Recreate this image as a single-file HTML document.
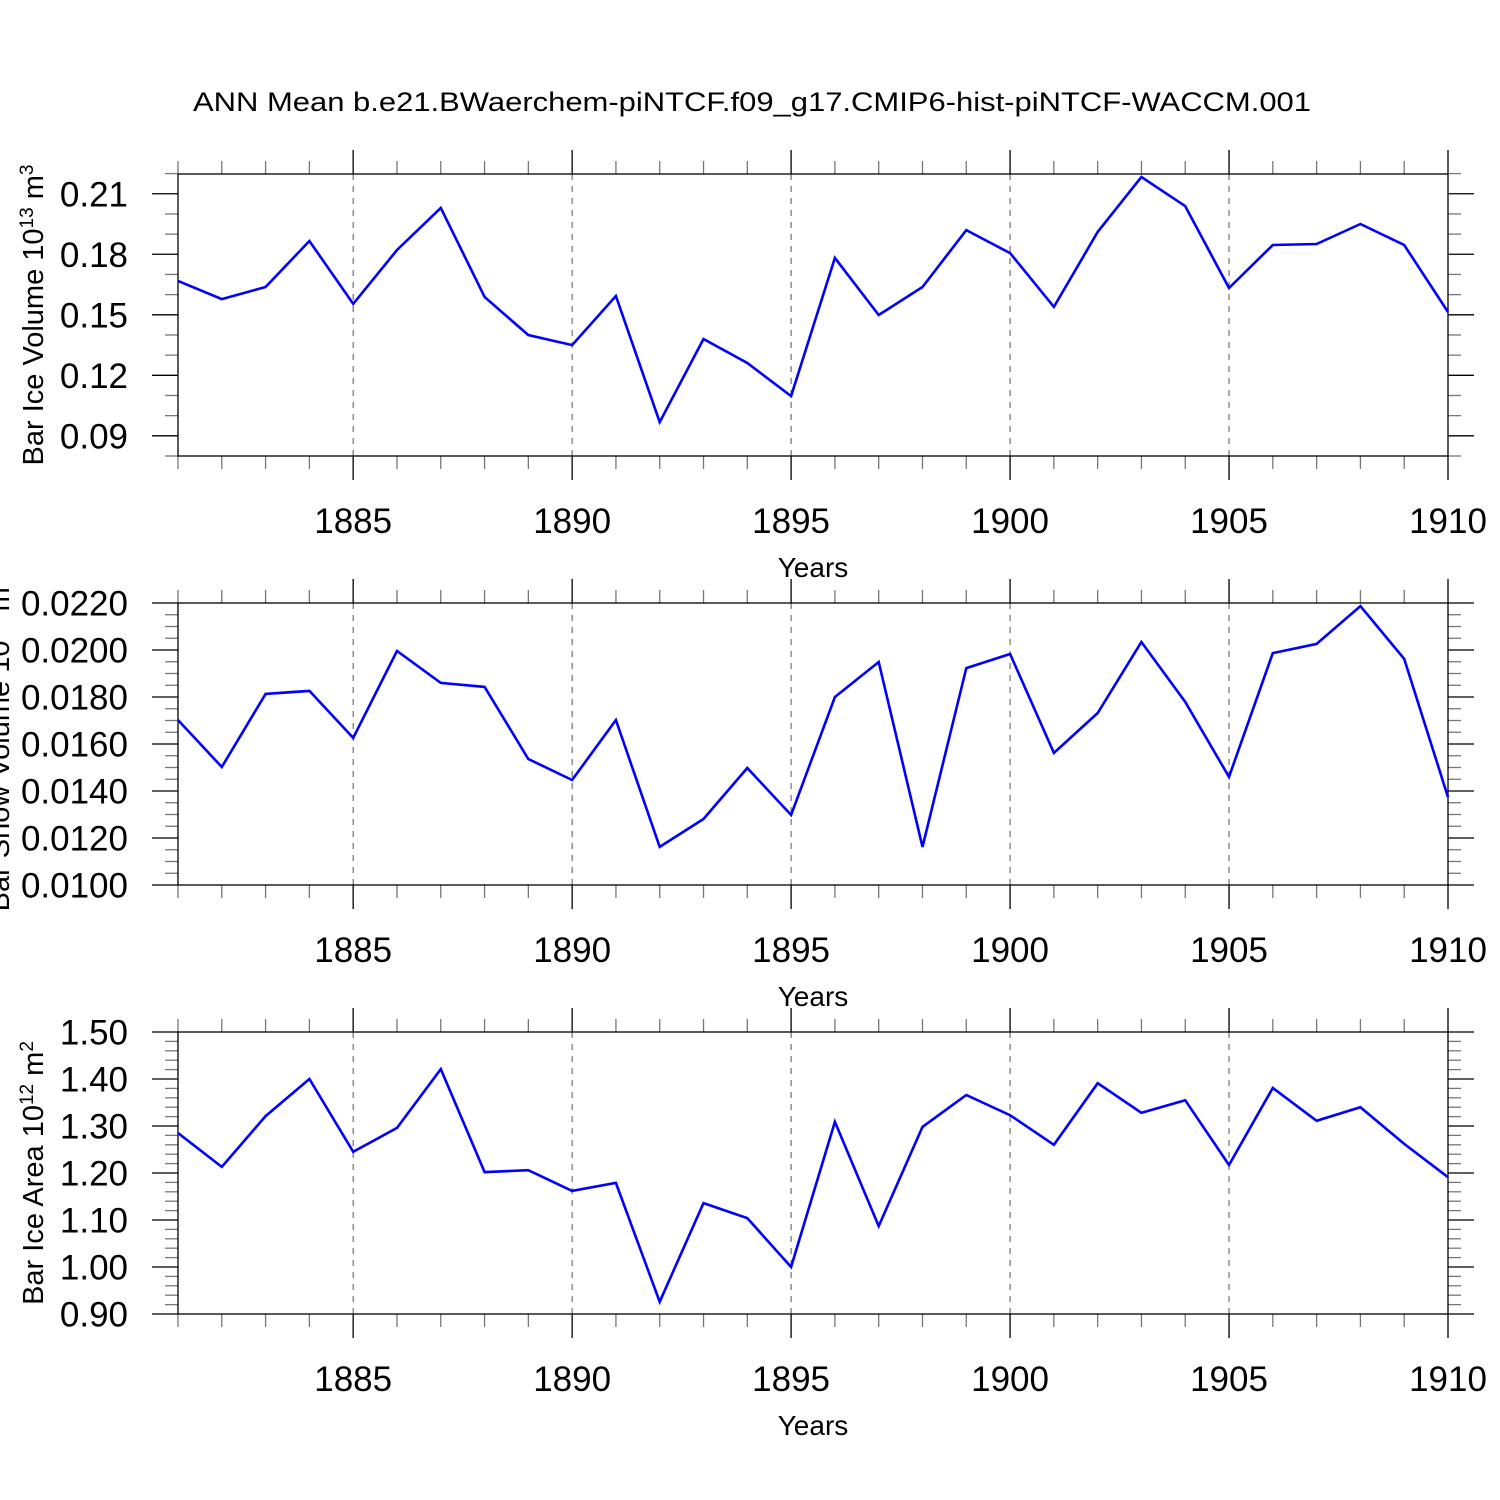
<!DOCTYPE html>
<html><head><meta charset="utf-8"><style>
html,body{margin:0;padding:0;background:#fff;}
svg{display:block;font-family:"Liberation Sans",sans-serif;}
</style></head><body>
<svg id="chart" width="1500" height="1500" viewBox="0 0 1500 1500" xmlns="http://www.w3.org/2000/svg">
<text x="752" y="111" font-size="27" text-anchor="middle" textLength="1118" lengthAdjust="spacingAndGlyphs">ANN Mean b.e21.BWaerchem-piNTCF.f09_g17.CMIP6-hist-piNTCF-WACCM.001</text>
</svg>
<script>
const years = [1881,1882,1883,1884,1885,1886,1887,1888,1889,1890,1891,1892,1893,1894,1895,1896,1897,1898,1899,1900,1901,1902,1903,1904,1905,1906,1907,1908,1909,1910];
const iceVolume = [0.1669,0.1579,0.1639,0.1867,0.1555,0.1822,0.2031,0.1589,0.1401,0.1351,0.1594,0.0969,0.1381,0.1262,0.1098,0.1783,0.1500,0.1639,0.1921,0.1807,0.1540,0.1912,0.2184,0.2040,0.1634,0.1847,0.1852,0.1951,0.1847,0.1515];
const snowVolume = [0.01702,0.01502,0.01813,0.01826,0.01626,0.01996,0.01860,0.01843,0.01536,0.01447,0.01702,0.01162,0.01281,0.01498,0.01298,0.01800,0.01949,0.01162,0.01923,0.01983,0.01562,0.01732,0.02034,0.01779,0.01460,0.01987,0.02026,0.02187,0.01962,0.01374];
const iceArea = [1.285,1.213,1.321,1.400,1.245,1.296,1.421,1.202,1.206,1.162,1.179,0.926,1.136,1.104,1.000,1.309,1.087,1.298,1.366,1.323,1.260,1.391,1.328,1.355,1.217,1.381,1.311,1.340,1.262,1.191];
const xTickLabels = ["1885","1890","1895","1900","1905","1910"];
const iceVolTicks = ["0.09","0.12","0.15","0.18","0.21"];
const snowVolTicks = ["0.0100","0.0120","0.0140","0.0160","0.0180","0.0200","0.0220"];
const iceAreaTicks = ["0.90","1.00","1.10","1.20","1.30","1.40","1.50"];

const svg = document.getElementById('chart');
const NS = 'http://www.w3.org/2000/svg';
const X0 = 178, X1 = 1448;
function xs(v){ return X0 + (v - 1881) / (1910 - 1881) * (X1 - X0); }
function mk(tag, attrs, parent){ const e = document.createElementNS(NS, tag); for (const k in attrs) e.setAttribute(k, attrs[k]); (parent||svg).appendChild(e); return e; }

function panel(name, top, bottom, ymin, ymax, minorStep, ticks, data, label, labelX){
  const g = mk('g', {});
  
  
  const ys = v => bottom - (v - ymin) / (ymax - ymin) * (bottom - top);
  for (const t of xTickLabels){ const yr = +t; if (yr >= 1910) continue;
    const l = mk('line', {x1:xs(yr), x2:xs(yr), y1:top, y2:bottom, stroke:'#555', 'stroke-width':1, 'stroke-dasharray':'6,6'}, g);
    
    
  }
  for (let yr = 1881; yr <= 1910; yr++){
    const major = yr % 5 === 0;
    const len = major ? 24 : 13;
    for (const [y, d] of [[top, -1], [bottom, 1]]){
      const l = mk('line', {x1:xs(yr), x2:xs(yr), y1:y, y2:y + d*len, stroke: major ? '#000' : '#777', 'stroke-width':1.3}, g);
      
      
    }
  }
  const nMinor = Math.round((ymax - ymin) / minorStep);
  const majorVals = ticks.map(Number);
  for (let i = 0; i <= nMinor; i++){
    const v = ymin + i * minorStep;
    const y = ys(v);
    if (y < top - 0.5 || y > bottom + 0.5) continue;
    const major = majorVals.some(m => Math.abs(m - v) < minorStep / 4);
    const len = major ? 26 : 13;
    for (const [x, d] of [[X0, -1], [X1, 1]]){
      const l = mk('line', {x1:x, x2:x + d*len, y1:y, y2:y, stroke: major ? '#000' : '#777', 'stroke-width':1.3}, g);
      
      
    }
  }
  const r = mk('rect', {x:X0, y:top, width:X1-X0, height:bottom-top, fill:'none', stroke:'#000', 'stroke-width':1.3}, g);
  
  
  for (const t of ticks){
    const tx = mk('text', {x:128, y:ys(+t) + 12.5, 'font-size':35, 'text-anchor':'end'}, g);
    tx.textContent = t;
    
    
  }
  for (const t of xTickLabels){
    const tx = mk('text', {x:xs(+t), y:bottom + 77, 'font-size':35, 'text-anchor':'middle'}, g);
    tx.textContent = t;
    
    
  }
  const xt = mk('text', {x:813, y:bottom + 121, 'font-size':28, 'text-anchor':'middle'}, g);
  xt.textContent = 'Years';
  
  
  const cy = (top + bottom) / 2;
  const yt = mk('text', {x:labelX, y:cy, 'font-size':29, 'text-anchor':'middle', transform:`rotate(-90 ${labelX} ${cy})`}, g);
  yt.innerHTML = label;
  
  
  const pts = data.map((v, i) => xs(years[i]).toFixed(1) + ',' + ys(v).toFixed(1)).join(' ');
  const pl = mk('polyline', {points:pts, fill:'none', stroke:'#0000ff', 'stroke-width':2.6, 'stroke-linejoin':'miter'}, g);
  
  
}
panel('ice-volume', 174, 456, 0.0801, 0.2199, 0.01, iceVolTicks, iceVolume,
  'Bar Ice Volume 10<tspan baseline-shift="super" font-size="19">13</tspan> m<tspan baseline-shift="super" font-size="19">3</tspan>', 43);
panel('snow-volume', 603, 885, 0.010, 0.022, 0.0005, snowVolTicks, snowVolume,
  'Bar Snow Volume 10<tspan baseline-shift="super" font-size="19">13</tspan> m<tspan baseline-shift="super" font-size="19">3</tspan>', 9);
panel('ice-area', 1032, 1314, 0.90, 1.50, 0.02, iceAreaTicks, iceArea,
  'Bar Ice Area 10<tspan baseline-shift="super" font-size="19">12</tspan> m<tspan baseline-shift="super" font-size="19">2</tspan>', 43);
</script>
</body></html>
